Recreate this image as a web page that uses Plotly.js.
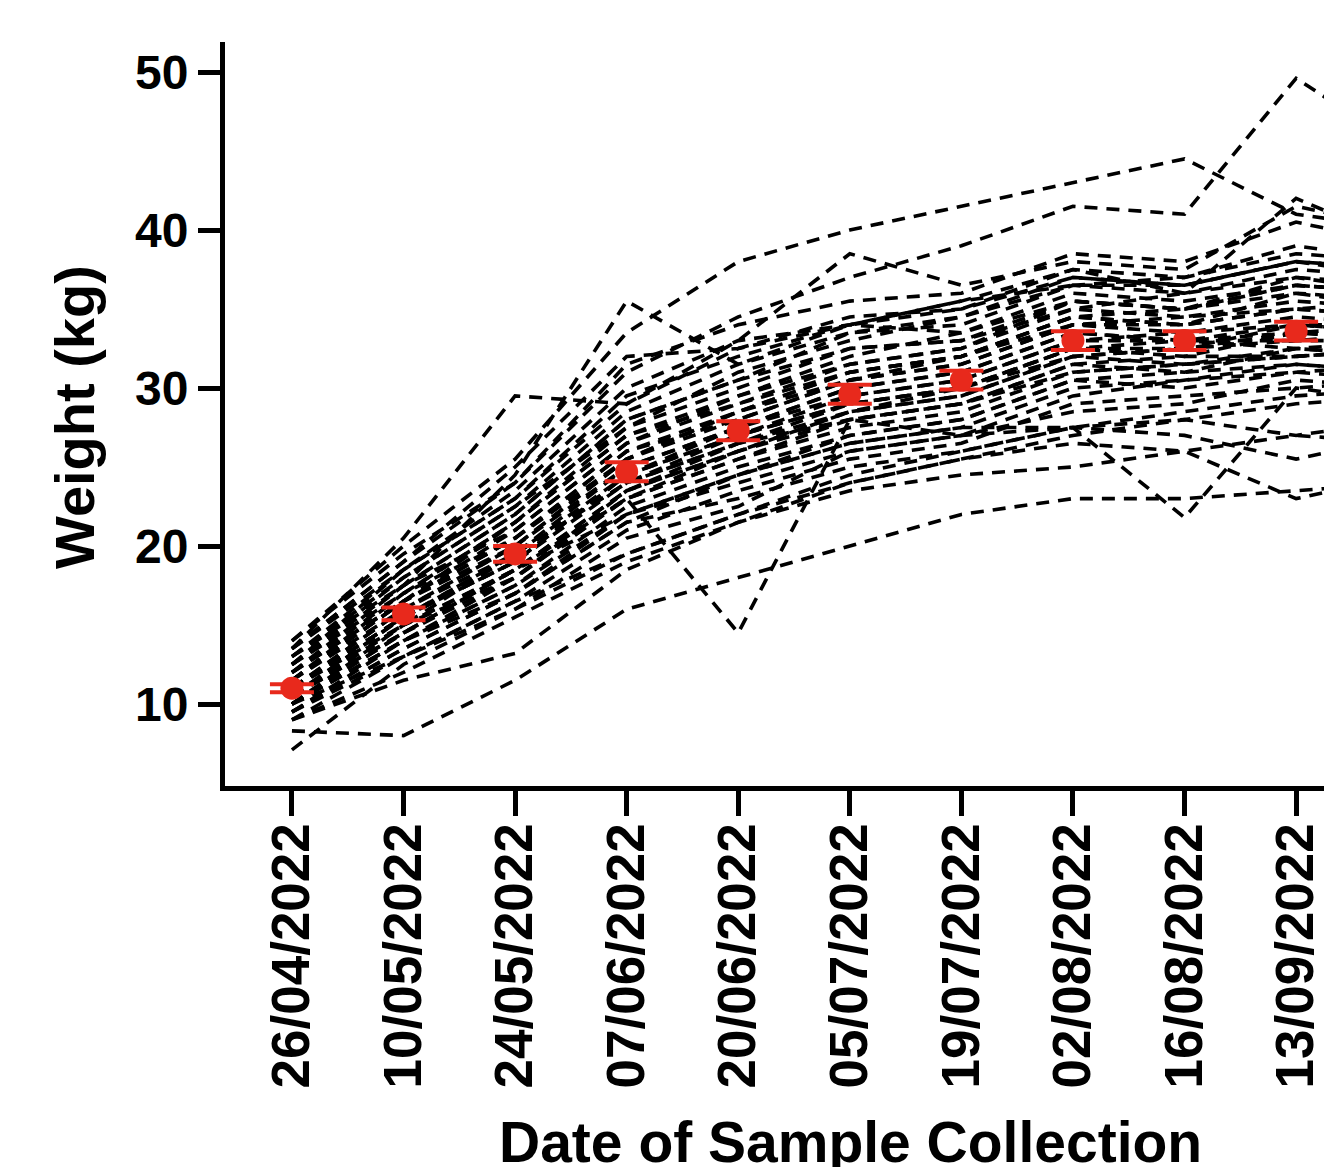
<!DOCTYPE html>
<html>
<head>
<meta charset="utf-8">
<script src="https://cdn.plot.ly/plotly-3.0.1.min.js"></script>
<style>html,body{margin:0;padding:0;background:#fff;}#chart{width:1324px;height:1167px;}</style>
</head>
<body>
<div id="chart"></div>
<script>
// Sampling dates (the last one lies beyond the visible crop)
const dates = ["26/04/2022","10/05/2022","24/05/2022","07/06/2022","20/06/2022","05/07/2022","19/07/2022","02/08/2022","16/08/2022","13/09/2022","27/09/2022"];

// Group mean and error (red)
const meanWeight = [11.0, 15.7, 19.5, 24.7, 27.3, 29.6, 30.5, 33.0, 33.0, 33.6];
const meanError  = [0.25, 0.4, 0.5, 0.6, 0.6, 0.6, 0.6, 0.6, 0.6, 0.6];

// Individual animal weights (kg)
const a01 = [14.0, 20.0, 25.5, 33.5, 38.0, 40.0, 41.5, 43.0, 44.5, 41.0, 40.0];
const a02 = [13.5, 19.0, 24.0, 31.0, 34.5, 37.0, 39.0, 41.5, 41.0, 49.6, 45.0];
const a03 = [13.0, 18.5, 23.0, 29.0, 33.0, 38.5, 36.5, 38.0, 37.5, 41.5, 40.0];
const a04 = [12.5, 17.5, 24.5, 35.5, 31.5, 34.0, 35.5, 37.5, 36.0, 42.0, 39.0];
const a05 = [13.5, 20.5, 29.5, 29.0, 32.5, 34.5, 35.0, 37.0, 36.5, 38.0, 37.0];
const a06 = [8.3, 8.0, 11.5, 16.0, 18.0, 20.0, 22.0, 23.0, 23.0, 23.5, 24.0];
const a07 = [7.1, 12.5, 16.0, 19.5, 22.0, 24.5, 26.0, 27.5, 28.5, 29.5, 30.0];
const a08 = [10.0, 14.0, 18.0, 23.0, 14.5, 28.0, 27.0, 29.5, 30.5, 31.5, 31.0];
const a09 = [10.5, 14.5, 18.5, 22.0, 24.5, 26.5, 27.5, 27.5, 21.8, 30.0, 29.0];
const a10 = [9.5, 13.0, 16.5, 19.5, 22.0, 24.0, 25.5, 26.5, 26.0, 23.0, 24.5];
const a11 = [9.0, 11.5, 13.2, 18.5, 21.5, 24.0, 25.5, 27.0, 28.0, 29.0, 29.5];
const b01 = [11.5, 16.5, 20.5, 26.0, 28.5, 31.0, 32.0, 34.5, 34.0, 35.0, 34.5];
const b02 = [10.5, 15.0, 18.5, 23.5, 26.5, 28.5, 29.5, 32.0, 32.5, 33.0, 33.0];
const b03 = [12.0, 17.0, 21.5, 27.0, 29.5, 32.0, 33.5, 36.0, 35.5, 36.5, 36.0];
const b04 = [10.0, 14.5, 18.0, 23.0, 25.5, 27.5, 28.5, 31.0, 31.5, 32.0, 32.5];
const b05 = [11.0, 16.0, 19.5, 25.0, 27.5, 30.0, 31.0, 33.5, 33.0, 34.0, 33.5];
const b06 = [12.5, 17.5, 22.0, 28.0, 30.5, 33.5, 34.0, 36.5, 36.0, 37.5, 37.0];
const b07 = [9.5, 13.5, 17.0, 21.5, 24.5, 26.5, 27.5, 30.0, 30.5, 31.0, 30.5];
const b08 = [11.0, 15.5, 19.0, 24.5, 27.0, 29.0, 30.0, 32.5, 33.0, 32.5, 33.0];
const b09 = [13.0, 18.0, 22.5, 28.5, 31.5, 33.5, 34.5, 37.0, 36.5, 38.0, 37.5];
const b10 = [10.0, 14.0, 17.5, 22.5, 25.0, 27.0, 28.0, 30.5, 31.0, 31.5, 31.0];
const b11 = [11.5, 16.0, 20.0, 25.5, 28.0, 30.5, 31.5, 34.0, 33.5, 34.5, 34.0];
const b12 = [10.5, 15.5, 19.0, 24.0, 26.5, 29.0, 30.0, 32.5, 32.0, 33.5, 33.0];
const b13 = [12.0, 16.5, 21.0, 26.5, 29.0, 31.5, 32.5, 35.0, 34.5, 35.5, 35.0];
const b14 = [9.0, 13.0, 16.5, 21.0, 23.5, 25.5, 26.5, 29.0, 29.5, 30.0, 30.5];
const b15 = [11.0, 15.0, 19.5, 24.0, 27.0, 29.5, 30.5, 33.0, 33.5, 34.0, 34.0];
const b16 = [12.5, 17.0, 21.5, 27.5, 30.0, 32.5, 33.0, 35.5, 35.0, 36.5, 36.0];
const b17 = [10.5, 14.5, 18.5, 23.0, 26.0, 28.0, 29.0, 31.5, 32.0, 32.0, 32.5];
const b18 = [11.5, 16.5, 20.5, 25.5, 28.5, 30.5, 31.5, 34.0, 34.5, 35.0, 35.5];
const b19 = [13.5, 18.5, 23.0, 29.5, 32.0, 34.0, 35.0, 37.5, 37.0, 39.0, 38.0];
const b20 = [10.0, 15.0, 18.0, 23.5, 26.0, 28.5, 29.5, 32.0, 31.5, 32.5, 32.0];
const b21 = [11.0, 16.0, 20.0, 25.0, 27.5, 29.5, 30.5, 33.0, 33.0, 33.5, 34.0];
const b22 = [12.0, 17.5, 21.0, 26.5, 29.5, 31.5, 32.5, 35.5, 35.0, 36.0, 35.5];
const b23 = [9.5, 14.0, 17.5, 22.0, 24.5, 27.0, 28.0, 30.5, 30.0, 31.0, 31.5];
const b24 = [10.5, 15.5, 19.5, 24.5, 27.0, 29.0, 30.0, 32.5, 32.5, 33.5, 33.0];
const b25 = [11.5, 17.0, 20.5, 26.0, 28.0, 30.5, 32.0, 34.5, 34.0, 35.0, 34.5];
const b26 = [12.5, 18.0, 22.5, 27.5, 31.0, 33.0, 34.5, 36.5, 37.0, 38.5, 38.0];
const b27 = [10.0, 14.5, 18.5, 23.0, 25.5, 28.0, 29.0, 31.5, 31.0, 32.5, 32.0];
const b28 = [11.0, 15.5, 19.0, 24.5, 27.5, 30.0, 31.0, 33.5, 33.0, 33.0, 33.5];
const b29 = [10.5, 15.0, 18.5, 23.5, 26.0, 28.5, 30.0, 32.0, 32.5, 34.0, 33.5];
const b30 = [12.0, 16.5, 21.5, 27.0, 29.0, 31.0, 32.0, 34.0, 34.0, 36.0, 35.0];
const b31 = [9.5, 13.5, 17.0, 22.0, 24.0, 26.0, 27.0, 28.5, 29.0, 30.5, 30.0];
const b32 = [11.5, 16.5, 20.0, 25.5, 28.5, 31.0, 32.0, 34.5, 35.0, 36.5, 36.0];
const b33 = [13.0, 17.5, 22.0, 28.0, 30.5, 32.5, 33.0, 35.0, 36.0, 37.0, 36.5];
const b34 = [10.0, 14.0, 17.0, 21.5, 23.0, 25.0, 26.0, 27.5, 28.0, 27.0, 28.0];
const b35 = [11.0, 15.5, 19.5, 24.0, 26.5, 28.0, 29.0, 31.0, 31.5, 32.0, 32.5];
const c01 = [14.0, 19.5, 24.0, 31.5, 34.0, 35.5, 36.0, 38.5, 38.0, 40.5, 39.0];
const c02 = [12.5, 18.5, 23.5, 30.0, 33.0, 34.0, 35.5, 36.5, 36.5, 38.0, 37.5];
const c03 = [13.5, 19.0, 25.0, 32.0, 32.5, 34.0, 33.5, 35.5, 35.0, 37.0, 36.0];
const d01 = [9.0, 12.0, 15.5, 19.0, 21.5, 23.5, 24.5, 25.0, 26.0, 27.0, 26.5];
const d02 = [10.0, 13.0, 16.0, 20.5, 22.5, 26.0, 27.0, 27.5, 27.0, 25.5, 27.0];

const animals = [a01,a02,a03,a04,a05,a06,a07,a08,a09,a10,a11,
  b01,b02,b03,b04,b05,b06,b07,b08,b09,b10,b11,b12,b13,b14,b15,b16,b17,b18,b19,b20,
  b21,b22,b23,b24,b25,b26,b27,b28,b29,b30,b31,b32,b33,b34,b35,c01,c02,c03,d01,d02];

const FONT = "Liberation Sans, Arial, Helvetica, sans-serif";
const RED = "#e8291c";

const traces = animals.map(v => ({
  type: "scatter", mode: "lines", x: dates, y: v,
  line: {color: "#000", width: 3.6, dash: "13px,9px"},
  hoverinfo: "skip", showlegend: false
}));

traces.push({
  type: "scatter", mode: "markers",
  x: dates.slice(0, meanWeight.length), y: meanWeight,
  marker: {color: RED, size: 23, line: {width: 0}},
  error_y: {type: "data", array: meanError, visible: true, color: RED, thickness: 4, width: 22},
  showlegend: false, cliponaxis: false
});

const layout = {
  width: 1324, height: 1167,
  margin: {l: 225, r: 0, t: 42, b: 381, pad: 0},
  paper_bgcolor: "#fff", plot_bgcolor: "#fff",
  showlegend: false,
  font: {family: FONT, color: "#000"},
  xaxis: {
    type: "category", categoryorder: "array", categoryarray: dates,
    range: [-0.6, 9.25],
    showgrid: false, zeroline: false,
    showline: true, linecolor: "#000", linewidth: 5,
    ticks: "outside", ticklen: 25, tickwidth: 5, tickcolor: "#000",
    tickangle: -90,
    ticklabelstandoff: -14,
    tickfont: {family: FONT, size: 53, color: "#000", weight: "bold"},
    automargin: false
  },
  yaxis: {
    range: [4.81, 51.9],
    tickvals: [10, 20, 30, 40, 50],
    showgrid: false, zeroline: false,
    showline: true, linecolor: "#000", linewidth: 5,
    ticks: "outside", ticklen: 22, tickwidth: 5, tickcolor: "#000",
    tickfont: {family: FONT, size: 48, color: "#000", weight: "bold"},
    automargin: false
  },
  annotations: [
    {text: "Date of Sample Collection", xref: "paper", yref: "paper",
     x: 0.5687, y: -0.478, xanchor: "center", yanchor: "middle", showarrow: false,
     font: {family: FONT, size: 57, color: "#000", weight: "bold"}},
    {text: "Weight (kg)", xref: "paper", yref: "paper", textangle: -90,
     x: -0.1365, y: 0.496, xanchor: "center", yanchor: "middle", showarrow: false,
     font: {family: FONT, size: 56, color: "#000", weight: "bold"}}
  ]
};

Plotly.newPlot("chart", traces, layout, {staticPlot: true, displayModeBar: false});
</script>
</body>
</html>
